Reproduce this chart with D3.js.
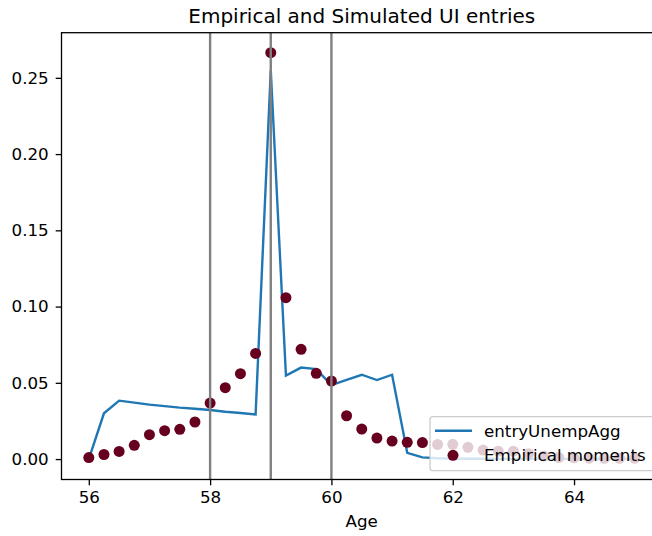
<!DOCTYPE html>
<html>
<head>
<meta charset="utf-8">
<script src="https://cdn.jsdelivr.net/npm/d3@7"></script>
<style>
  body { margin: 0; background: #fff; }
  svg { display: block; font-family: "DejaVu Sans", sans-serif; }
</style>
</head>
<body>
<div id="chart"></div>
<script>
// ages, quarterly steps
var ages = [56, 56.25, 56.5, 56.75, 57, 57.25, 57.5, 57.75, 58, 58.25, 58.5, 58.75,
    59, 59.25, 59.5, 59.75, 60, 60.25, 60.5, 60.75, 61, 61.25, 61.5, 61.75,
    62, 62.25, 62.5, 62.75, 63, 63.25, 63.5, 63.75, 64, 64.25, 64.5, 64.75, 65];

// simulated entries (line)
var simulated = [0.000, 0.030, 0.0383, 0.037, 0.0357, 0.0347, 0.0337, 0.033, 0.0322, 0.031, 0.0302, 0.0293,
    0.255, 0.0547, 0.060, 0.059, 0.0485, 0.052, 0.0553, 0.0518, 0.0553, 0.0041, 0.0011, 0.0005,
    0.0003, 0.0002, 0.0002, 0.0001, 0.0001, 0.0001, 0.0001, 0.0001, 0.0, 0.0, 0.0, 0.0, 0.0];

// empirical moments (dots)
var empirical = [0.001, 0.003, 0.005, 0.009, 0.016, 0.0186, 0.0195, 0.0243, 0.0367, 0.0468, 0.056, 0.0693,
    0.2665, 0.1058, 0.072, 0.0562, 0.0512, 0.0284, 0.0197, 0.0138, 0.0118, 0.011, 0.0108, 0.0096,
    0.0097, 0.0077, 0.0059, 0.0052, 0.0052, 0.0035, 0.002, 0.001, 0.0008, 0.0006, 0.0005, 0.0005, 0.0005];

var vlines = [58, 59, 60];
var xTicks = [56, 58, 60, 62, 64];
var yTicks = [0, 0.05, 0.10, 0.15, 0.20, 0.25];

var width = 652, height = 536;
var plot = { left: 61.5, right: 662, top: 32.7, bottom: 479.5 };
var fontSize = 16.7;

var svg = d3.select("#chart").append("svg")
    .attr("width", width)
    .attr("height", height);

var xScale = d3.scaleLinear().domain([55.55, 65.45]).range([plot.left, plot.right]);
var yScale = d3.scaleLinear().domain([-0.0134, 0.2796]).range([plot.bottom, plot.top]);

svg.append("defs").append("clipPath").attr("id", "clip")
    .append("rect")
    .attr("x", plot.left).attr("y", plot.top)
    .attr("width", plot.right - plot.left).attr("height", plot.bottom - plot.top);

var g = svg.append("g").attr("clip-path", "url(#clip)");

// simulated line
var line = d3.line()
    .x(function(d, i){ return xScale(ages[i]); })
    .y(function(d){ return yScale(d); });

g.append("path")
    .attr("d", line(simulated))
    .attr("fill", "none")
    .attr("stroke", "#1f77b4")
    .attr("stroke-width", 2.4)
    .attr("stroke-linejoin", "miter");

// empirical dots
g.selectAll("circle.emp")
    .data(empirical)
    .enter()
    .append("circle")
    .attr("class", "emp")
    .attr("cx", function(d, i){ return xScale(ages[i]); })
    .attr("cy", function(d){ return yScale(d); })
    .attr("r", 5.5)
    .attr("fill", "#67001f");

// vertical reference lines
g.selectAll("line.vl")
    .data(vlines)
    .enter()
    .append("line")
    .attr("class", "vl")
    .attr("x1", function(d){ return xScale(d); })
    .attr("x2", function(d){ return xScale(d); })
    .attr("y1", plot.top)
    .attr("y2", plot.bottom)
    .attr("stroke", "#808080")
    .attr("stroke-width", 2.4);

// axes
var xAxis = d3.axisBottom(xScale).tickValues(xTicks).tickFormat(d3.format("d")).tickSize(5.8).tickPadding(5.5);
var yAxis = d3.axisLeft(yScale).tickValues(yTicks).tickFormat(d3.format(".2f")).tickSize(5.8).tickPadding(7);

var gx = svg.append("g")
    .attr("transform", "translate(0," + plot.bottom + ")")
    .call(xAxis);
var gy = svg.append("g")
    .attr("transform", "translate(" + plot.left + ",0)")
    .call(yAxis);

[gx, gy].forEach(function(a){
    a.select(".domain").remove();
    a.selectAll(".tick line").attr("stroke", "#000").attr("stroke-width", 1.3);
    a.selectAll(".tick text").attr("font-size", fontSize).attr("fill", "#000")
        .attr("font-family", "DejaVu Sans, sans-serif");
});

// spines
svg.append("rect")
    .attr("x", plot.left).attr("y", plot.top)
    .attr("width", plot.right - plot.left).attr("height", plot.bottom - plot.top)
    .attr("fill", "none")
    .attr("stroke", "#000")
    .attr("stroke-width", 1.3);

// labels
svg.append("text")
    .attr("x", (plot.left + plot.right) / 2)
    .attr("y", 527)
    .attr("text-anchor", "middle")
    .attr("font-size", fontSize)
    .text("Age");

svg.append("text")
    .attr("x", (plot.left + plot.right) / 2)
    .attr("y", 23)
    .attr("text-anchor", "middle")
    .attr("font-size", 20)
    .text("Empirical and Simulated UI entries");

// legend
var legend = svg.append("g");
legend.append("rect")
    .attr("x", 430).attr("y", 416.7)
    .attr("width", 225).attr("height", 54)
    .attr("rx", 3)
    .attr("fill", "#fff")
    .attr("fill-opacity", 0.8)
    .attr("stroke", "#cccccc")
    .attr("stroke-width", 1.3);

legend.append("line")
    .attr("x1", 435).attr("x2", 472)
    .attr("y1", 430.7).attr("y2", 430.7)
    .attr("stroke", "#1f77b4")
    .attr("stroke-width", 2.4);
legend.append("circle")
    .attr("cx", 453).attr("cy", 455.3)
    .attr("r", 5.5)
    .attr("fill", "#67001f");

legend.append("text")
    .attr("x", 484).attr("y", 430.7)
    .attr("dy", "0.35em")
    .attr("font-size", fontSize)
    .text("entryUnempAgg");
legend.append("text")
    .attr("x", 484).attr("y", 455.3)
    .attr("dy", "0.35em")
    .attr("font-size", fontSize)
    .text("Empirical moments");
</script>
</body>
</html>
